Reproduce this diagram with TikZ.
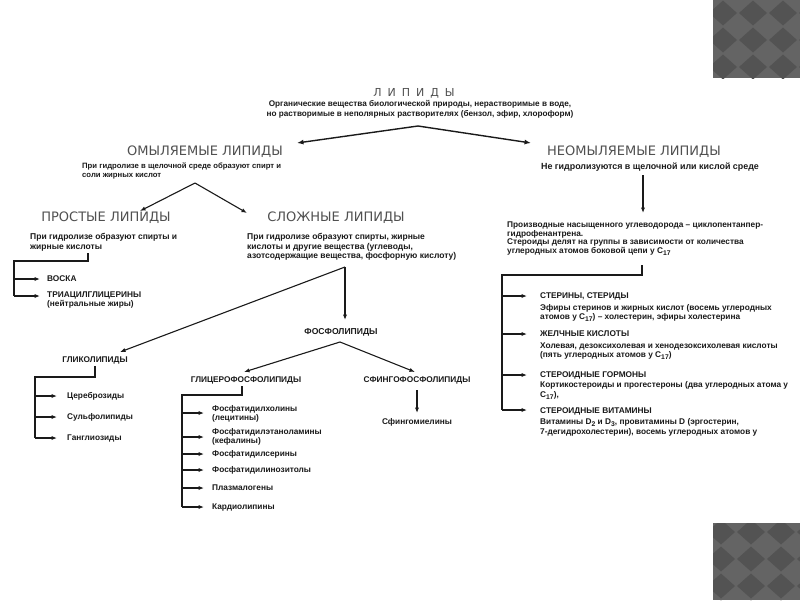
\documentclass[tikz,border=0pt]{standalone}
\usepackage{fontspec}
\setmainfont{Liberation Sans}
\newfontfamily\headfont{DejaVu Sans}
\usetikzlibrary{arrows.meta}
\definecolor{tilebase}{HTML}{646464}
\definecolor{tiledark}{HTML}{535353}
\definecolor{headgray}{HTML}{505050}
\definecolor{ink}{HTML}{1A1A1A}
\newcommand{\bfs}[1]{\bfseries\fontsize{#1}{9.5}\selectfont}
\newcommand{\lowidx}[1]{\raisebox{-1.8pt}{\fontsize{6.8}{7}\selectfont #1}}
\begin{document}
\begin{tikzpicture}[x=1pt,y=-1pt,
  txt/.style={font=\bfs{8.3}, inner sep=0pt, align=left, anchor=north west, text=ink},
  ctxt/.style={font=\bfseries\fontsize{8.2}{10.5}\selectfont, inner sep=0pt, align=center, anchor=north, text=ink},
  item/.style={font=\bfs{8.3}, inner sep=0pt, align=left, anchor=west, text=ink},
  lab/.style={font=\bfs{8.3}, inner sep=0pt, text=ink},
  head/.style={font=\headfont\fontsize{13}{15}\selectfont, text=headgray, inner sep=0pt},
  conn/.style={line width=1.1pt, ink},
  arr/.style={line width=1.1pt, ink, -{Latex[length=5.5pt,width=4.2pt]}},
  bigarr/.style={line width=1.4pt, ink, -{Latex[length=6.5pt,width=5pt]}},
]
\useasboundingbox (0,0) rectangle (800,600);
\fill[white] (0,0) rectangle (800,600);

% decorative tiles
\begin{scope}
  \clip (713,0) rectangle (800,78);
  \fill[tilebase] (713,0) rectangle (800,78);
  \foreach \i in {-1,0,1,2,3} \foreach \j in {-1,0,1,2,3}
    \fill[tiledark] ({723+30*\i},{13+27*\j}) ++(-14,0) -- ++(14,-12.5) -- ++(14,12.5) -- ++(-14,12.5) -- cycle;
\end{scope}
\begin{scope}
  \clip (713,523) rectangle (800,600);
  \fill[tilebase] (713,523) rectangle (800,600);
  \foreach \i in {-1,0,1,2,3} \foreach \j in {-1,0,1,2,3}
    \fill[tiledark] ({721+30*\i},{532+27*\j}) ++(-14,0) -- ++(14,-12.5) -- ++(14,12.5) -- ++(-14,12.5) -- cycle;
\end{scope}

% top
\node[head, font=\headfont\fontsize{11}{13}\selectfont] (lip) at (414,93) {Л\hspace{6pt}И\hspace{6pt}П\hspace{6pt}И\hspace{6pt}Д\hspace{6pt}Ы};
\node[ctxt] (lipd) at (420,100) {Органические вещества биологической природы, нерастворимые в воде,\\но растворимые в неполярных растворителях (бензол, эфир, хлороформ)};
\coordinate (lipapex) at (418,126);
\coordinate (omtip) at (297,143);
\coordinate (neomtip) at (531,143);
\draw[bigarr] (lipapex) -- (omtip);
\draw[bigarr] (lipapex) -- (neomtip);

% saponifiable
\node[head] (om) at (205,152) {ОМЫЛЯЕМЫЕ ЛИПИДЫ};
\node[txt, font=\bfs{7.7}] (omd) at (82,162.5) {При гидролизе в щелочной среде образуют спирт и\\соли жирных кислот};
\coordinate (omapex) at (195,183);
\coordinate (prtip) at (140,211);
\coordinate (sltip) at (247,213);
\draw[arr] (omapex) -- (prtip);
\draw[arr] (omapex) -- (sltip);

% simple lipids
\node[head] (pr) at (106,218) {ПРОСТЫЕ ЛИПИДЫ};
\node[txt, font=\bfs{8.5}] (prd) at (30,233.5) {При гидролизе образуют спирты и\\жирные кислоты};
\coordinate (prtick) at (88,253);
\coordinate (prc) at (88,261);
\coordinate (prl) at (14,261);
\coordinate (prb) at (14,296);
\node[item] (voska) at (47,279) {ВОСКА};
\node[txt] (tag) at (47,291.5) {ТРИАЦИЛГЛИЦЕРИНЫ\\(нейтральные жиры)};
\draw[conn] (prtick) -- (prc) -- (prl) -- (prb);
\draw[arr] (prb) -- (40,296);
\draw[arr] (prl |- voska.west) -- ([xshift=-7pt]voska.west);

% complex lipids
\node[head] (sl) at (336,218) {СЛОЖНЫЕ ЛИПИДЫ};
\node[txt, font=\bfs{8.5}] (sld) at (247,233.5) {При гидролизе образуют спирты, жирные\\кислоты и другие вещества (углеводы,\\азотсодержащие вещества, фосфорную кислоту)};
\coordinate (slfork) at (345,267);
\node[lab, font=\bfs{8.6}] (fos) at (341,332) {ФОСФОЛИПИДЫ};
\draw[arr] (slfork) -- (345,320);
\coordinate (glktip) at (120,352);
\draw[arr] (slfork) -- (glktip);

% glycolipids
\node[lab] (glk) at (95,360) {ГЛИКОЛИПИДЫ};
\draw[conn] (95,366) -- (95,377) -- (35,377) -- (35,438);
\node[item] (cer) at (67,396) {Цереброзиды};
\node[item] (sul) at (67,417) {Сульфолипиды};
\node[item] (gan) at (67,438) {Ганглиозиды};
\foreach \n in {cer,sul,gan} \draw[arr] (35,0 |- \n.west) -- ([xshift=-10pt]\n.west);

% phospholipids branches
\coordinate (fosapex) at (340,342);
\draw[arr] (fosapex) -- (244,372);
\draw[arr] (fosapex) -- (415,372);
\node[lab] (glc) at (246,380) {ГЛИЦЕРОФОСФОЛИПИДЫ};
\node[lab] (sfg) at (417,380) {СФИНГОФОСФОЛИПИДЫ};
\node[item, anchor=center] (sfm) at (417,422) {Сфингомиелины};
\draw[arr] (417,390) -- (417,413);

\draw[conn] (242,386) -- (242,395) -- (182,395) -- (182,507);
\node[txt] (f1) at (212,405) {Фосфатидилхолины\\(лецитины)};
\node[txt] (f2) at (212,428) {Фосфатидилэтаноламины\\(кефалины)};
\node[item] (f3) at (212,454) {Фосфатидилсерины};
\node[item] (f4) at (212,470) {Фосфатидилинозитолы};
\node[item] (f5) at (212,488) {Плазмалогены};
\node[item] (f6) at (212,507) {Кардиолипины};
\draw[arr] (182,413) -- (204,413);
\draw[arr] (182,437) -- (204,437);
\foreach \n in {f3,f4,f5,f6} \draw[arr] (182,0 |- \n.west) -- ([xshift=-8pt]\n.west);

% unsaponifiable
\node[head] (neom) at (634,152) {НЕОМЫЛЯЕМЫЕ ЛИПИДЫ};
\node[lab, font=\bfs{8.9}] (neomd) at (650,167) {Не гидролизуются в щелочной или кислой среде};
\draw[arr] (643,175) -- (643,213);
\node[txt, font=\bfseries\fontsize{8.3}{8.7}\selectfont] (ster) at (507,221.5) {Производные насыщенного углеводорода – циклопентанпер-\\гидрофенантрена.\\Стероиды делят на группы в зависимости от количества\\углеродных атомов боковой цепи у C\lowidx{17}};
\draw[conn] (642,265) -- (642,275) -- (502,275) -- (502,410);
\node[txt] (s1) at (540,292.5) {СТЕРИНЫ, СТЕРИДЫ};
\node[txt] (s1d) at (540,304) {Эфиры стеринов и жирных кислот (восемь углеродных\\атомов у C\lowidx{17}) – холестерин, эфиры холестерина};
\node[txt] (s2) at (540,330.5) {ЖЕЛЧНЫЕ КИСЛОТЫ};
\node[txt] (s2d) at (540,342.5) {Холевая, дезоксихолевая и хенодезоксихолевая кислоты\\(пять углеродных атомов у C\lowidx{17})};
\node[txt] (s3) at (540,371.5) {СТЕРОИДНЫЕ ГОРМОНЫ};
\node[txt] (s3d) at (540,381.5) {Кортикостероиды и прогестероны (два углеродных атома у\\C\lowidx{17}),};
\node[txt] (s4) at (540,407) {СТЕРОИДНЫЕ ВИТАМИНЫ};
\node[txt] (s4d) at (540,418.5) {Витамины D\lowidx{2} и D\lowidx{3}, провитамины D (эргостерин,\\7-дегидрохолестерин), восемь углеродных атомов у};
\draw[arr] (502,296) -- (527,296);
\draw[arr] (502,334) -- (527,334);
\draw[arr] (502,375) -- (527,375);
\draw[arr] (502,410) -- (527,410);
\end{tikzpicture}
\end{document}
